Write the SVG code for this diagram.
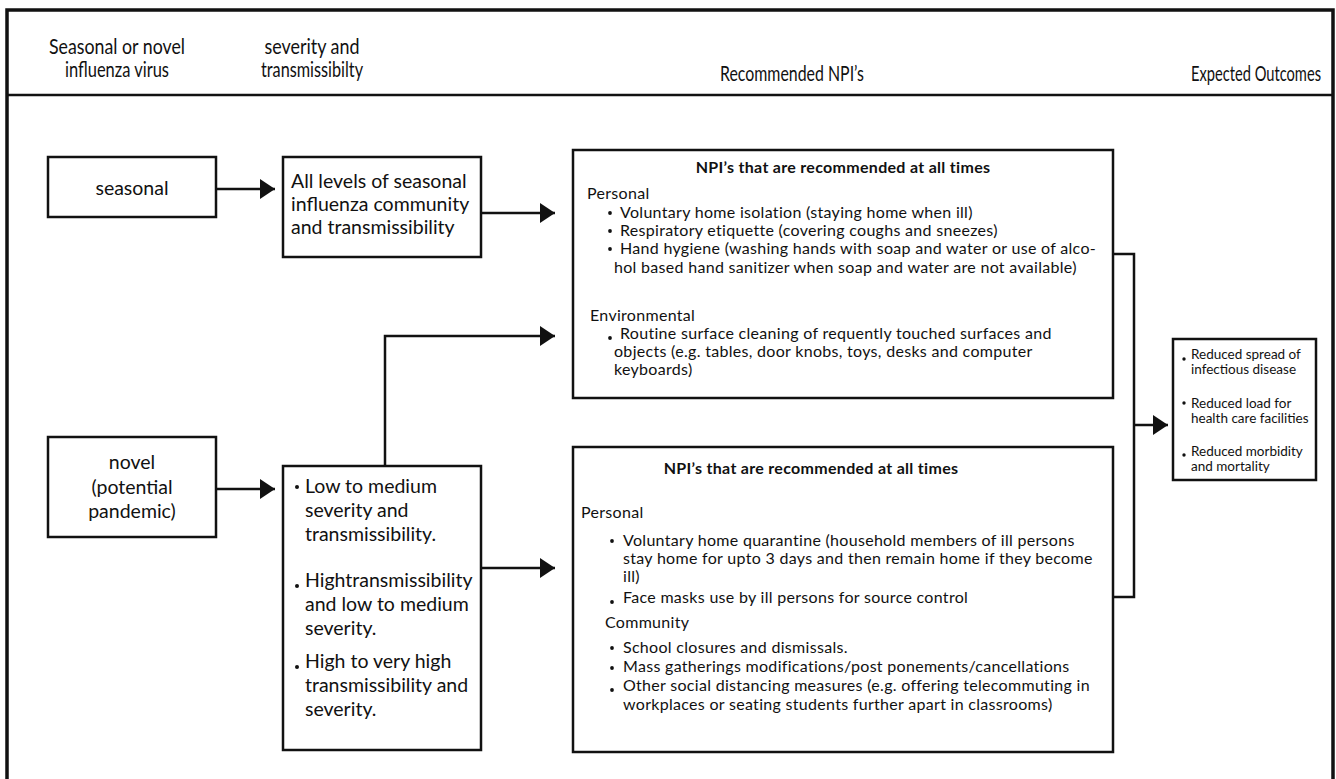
<svg xmlns="http://www.w3.org/2000/svg" width="1336" height="779" viewBox="0 0 1336 779">
<defs>
<style>
text{font-family:Lato,"Liberation Sans",sans-serif;fill:#111}
.hd{font-size:20.5px}
.bx{font-size:19.5px}
.np{font-size:16px;letter-spacing:0.3px}
.tt{font-size:16px;font-weight:bold;letter-spacing:0.3px}
.oc{font-size:13.5px}
.box{fill:#fff;stroke:#111;stroke-width:2.5}
.ln{fill:none;stroke:#111;stroke-width:2.5}
.frame{fill:none;stroke:#111;stroke-width:3.5}
</style>
<marker id="ah" markerUnits="userSpaceOnUse" markerWidth="15" markerHeight="20" refX="15" refY="10" orient="auto">
<path d="M0,0 L15,10 L0,20 z" fill="#111"/>
</marker>
</defs>
<rect width="1336" height="779" fill="#fff"/>
<g id="frame">
<path class="frame" d="M7,779 V10 H1333 V779"/>
<line class="ln" x1="7" y1="95" x2="1333" y2="95"/>
<text class="hd" x="117" y="54" text-anchor="middle" textLength="136" lengthAdjust="spacingAndGlyphs">Seasonal or novel</text>
<text class="hd" x="117" y="77" text-anchor="middle" textLength="104" lengthAdjust="spacingAndGlyphs">influenza virus</text>
<text class="hd" x="312" y="54" text-anchor="middle" textLength="95" lengthAdjust="spacingAndGlyphs">severity and</text>
<text class="hd" x="312" y="77" text-anchor="middle" textLength="102" lengthAdjust="spacingAndGlyphs">transmissibilty</text>
<text class="hd" x="792" y="81" text-anchor="middle" textLength="144" lengthAdjust="spacingAndGlyphs">Recommended NPI’s</text>
<text class="hd" x="1256" y="81" text-anchor="middle" textLength="130" lengthAdjust="spacingAndGlyphs">Expected Outcomes</text>
</g>
<g id="connectors">
<line class="ln" x1="216" y1="189" x2="275" y2="189" marker-end="url(#ah)"/>
<line class="ln" x1="481" y1="213" x2="555" y2="213" marker-end="url(#ah)"/>
<path class="ln" d="M385,466 V336 H555" marker-end="url(#ah)"/>
<line class="ln" x1="216" y1="489" x2="275" y2="489" marker-end="url(#ah)"/>
<line class="ln" x1="481" y1="568" x2="555" y2="568" marker-end="url(#ah)"/>
<path class="ln" d="M1113,254 H1134 V597 H1113"/>
<line class="ln" x1="1134" y1="425" x2="1168" y2="425" marker-end="url(#ah)"/>
</g>
<g id="seasonal">
<rect class="box" x="48" y="157" width="168" height="60"/>
<text class="bx" x="132" y="195" text-anchor="middle">seasonal</text>
</g>
<g id="all-levels">
<rect class="box" x="283" y="157" width="198" height="100"/>
<text class="bx" x="291" y="188">All levels of seasonal</text>
<text class="bx" x="291" y="211">influenza community</text>
<text class="bx" x="291" y="234">and transmissibility</text>
</g>
<g id="novel">
<rect class="box" x="48" y="437" width="168" height="100"/>
<text class="bx" x="132" y="469" text-anchor="middle">novel</text>
<text class="bx" x="132" y="494" text-anchor="middle">(potential</text>
<text class="bx" x="132" y="518" text-anchor="middle">pandemic)</text>
</g>
<g id="novel-levels">
<rect class="box" x="283" y="466" width="198" height="284"/>
<circle cx="297" cy="487" r="2" fill="#111"/>
<text class="bx" x="305" y="493">Low to medium</text>
<text class="bx" x="305" y="517">severity and</text>
<text class="bx" x="305" y="541">transmissibility.</text>
<circle cx="297" cy="586" r="2" fill="#111"/>
<text class="bx" x="305" y="587">Hightransmissibility</text>
<text class="bx" x="305" y="611">and low to medium</text>
<text class="bx" x="305" y="635">severity.</text>
<circle cx="297" cy="667" r="2" fill="#111"/>
<text class="bx" x="305" y="668">High to very high</text>
<text class="bx" x="305" y="692">transmissibility and</text>
<text class="bx" x="305" y="716">severity.</text>
</g>
<g id="npi-top">
<rect class="box" x="573" y="150" width="540" height="248"/>
<text class="tt" x="843" y="173" text-anchor="middle">NPI’s that are recommended at all times</text>
<text class="np" x="587" y="199">Personal</text>
<circle cx="610" cy="213" r="1.9" fill="#111"/>
<text class="np" x="620" y="218">Voluntary home isolation (staying home when ill)</text>
<circle cx="610" cy="231" r="1.9" fill="#111"/>
<text class="np" x="620" y="236">Respiratory etiquette (covering coughs and sneezes)</text>
<circle cx="610" cy="249" r="1.9" fill="#111"/>
<text class="np" x="620" y="254">Hand hygiene (washing hands with soap and water or use of alco-</text>
<text class="np" x="614" y="273">hol based hand sanitizer when soap and water are not available)</text>
<text class="np" x="590" y="321">Environmental</text>
<circle cx="610" cy="338" r="1.9" fill="#111"/>
<text class="np" x="620" y="339">Routine surface cleaning of requently touched surfaces and</text>
<text class="np" x="614" y="357">objects (e.g. tables, door knobs, toys, desks and computer</text>
<text class="np" x="614" y="375">keyboards)</text>
</g>
<g id="npi-bottom">
<rect class="box" x="573" y="447" width="540" height="305"/>
<text class="tt" x="811" y="474" text-anchor="middle">NPI’s that are recommended at all times</text>
<text class="np" x="581" y="518">Personal</text>
<circle cx="612" cy="541" r="1.9" fill="#111"/>
<text class="np" x="623" y="546">Voluntary home quarantine (household members of ill persons</text>
<text class="np" x="623" y="564">stay home for upto 3 days and then remain home if they become</text>
<text class="np" x="623" y="582">ill)</text>
<circle cx="612" cy="602" r="1.9" fill="#111"/>
<text class="np" x="623" y="603">Face masks use by ill persons for source control</text>
<text class="np" x="605" y="628">Community</text>
<circle cx="612" cy="648" r="1.9" fill="#111"/>
<text class="np" x="623" y="653">School closures and dismissals.</text>
<circle cx="612" cy="668" r="1.9" fill="#111"/>
<text class="np" x="623" y="672">Mass gatherings modifications/post ponements/cancellations</text>
<circle cx="612" cy="690" r="1.9" fill="#111"/>
<text class="np" x="623" y="691">Other social distancing measures (e.g. offering telecommuting in</text>
<text class="np" x="623" y="710">workplaces or seating students further apart in classrooms)</text>
</g>
<g id="outcomes">
<rect class="box" x="1173" y="339" width="143" height="141"/>
<circle cx="1184" cy="359" r="1.7" fill="#111"/>
<text class="oc" x="1191" y="359">Reduced spread of</text>
<text class="oc" x="1191" y="374">infectious disease</text>
<circle cx="1184" cy="403" r="1.7" fill="#111"/>
<text class="oc" x="1191" y="408">Reduced load for</text>
<text class="oc" x="1191" y="423">health care facilities</text>
<circle cx="1184" cy="455" r="1.7" fill="#111"/>
<text class="oc" x="1191" y="456">Reduced morbidity</text>
<text class="oc" x="1191" y="471">and mortality</text>
</g>
</svg>
